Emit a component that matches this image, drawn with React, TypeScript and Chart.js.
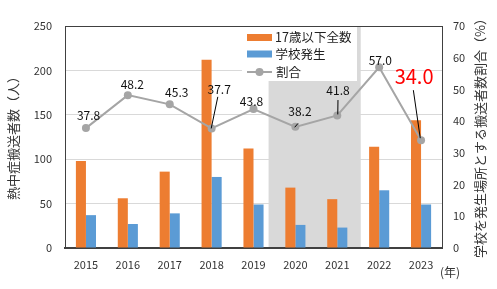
import { useEffect, useRef } from "react";
import { Chart, registerables } from "chart.js";

Chart.register(...registerables);

const years = ["2015", "2016", "2017", "2018", "2019", "2020", "2021", "2022", "2023"];
const totalUnder17 = [98, 56, 86, 212, 112, 68, 55, 114, 144];
const schoolCases = [37, 27, 39, 80, 49, 26, 23, 65, 49];
const schoolShare = [37.8, 48.2, 45.3, 37.7, 43.8, 38.2, 41.8, 57.0, 34.0];
const shareLabels = ["37.8", "48.2", "45.3", "37.7", "43.8", "38.2", "41.8", "57.0", "34.0"];
const seriesNames = ["17歳以下全数", "学校発生", "割合"];
const shadedYears = ["2020", "2021"];
const highlightedLabel = "34.0";
const leftTitle = "熱中症搬送者数（人）";
const rightTitle = "学校を発生場所とする搬送者数割合（%）";
const xUnit = "(年)";

const FONT = '"Noto Sans CJK JP", "Noto Sans", sans-serif';
const ORANGE = "#ED7D31";
const BLUE = "#5B9BD5";
const GRAY = "#A5A5A5";
const AXIS = "#404040";

// label offsets relative to each point: [dx, dy, leader?[sx, sy, ex, ey]]
const labelPlacement: Array<[number, number, number[] | null]> = [
  [2.6, -13, null],
  [4.5, -10.5, null],
  [7, -11.6, null],
  [7.6, -39, [-1.4, 7.4, -0.4, 0]],
  [-2, -7.5, null],
  [4.5, -15, [-1.9, 11.6, -0.7, 0.4]],
  [0.7, -24.7, [0, 9.3, 0.5, -1]],
  [1.2, -6.5, null],
  [-7, -64, [-0.7, 14, -0.8, -2]],
];

const decorPlugin = {
  id: "decor",
  beforeDatasetsDraw(chart: any) {
    const { ctx, chartArea } = chart;
    const xs = chart.scales.x;
    const cat = xs.width / years.length;
    const i0 = years.indexOf(shadedYears[0]);
    const i1 = years.indexOf(shadedYears[shadedYears.length - 1]);
    const left = xs.getPixelForValue(i0) - 0.64 * cat;
    const right = xs.getPixelForValue(i1) + 0.56 * cat;
    ctx.save();
    ctx.fillStyle = "#D9D9D9";
    ctx.fillRect(left, chartArea.top + 1, right - left, chartArea.bottom - chartArea.top - 2);
    ctx.restore();
  },
  afterDraw(chart: any) {
    const { ctx, chartArea } = chart;
    ctx.save();
    // top border
    ctx.strokeStyle = AXIS;
    ctx.lineWidth = 1;
    ctx.beginPath();
    ctx.moveTo(chartArea.left, chartArea.top + 0.5);
    ctx.lineTo(chartArea.right, chartArea.top + 0.5);
    ctx.stroke();

    // legend
    const lx = chartArea.left + 177;
    const ly = chartArea.top + 1;
    ctx.fillStyle = "#FFFFFF";
    ctx.fillRect(lx, ly, 115, 54);
    ctx.fillStyle = ORANGE;
    ctx.fillRect(lx + 5, ly + 7, 25, 7);
    ctx.fillStyle = BLUE;
    ctx.fillRect(lx + 5, ly + 23.5, 25, 7);
    ctx.strokeStyle = GRAY;
    ctx.lineWidth = 2;
    ctx.beginPath();
    ctx.moveTo(lx + 5, ly + 45);
    ctx.lineTo(lx + 30, ly + 45);
    ctx.stroke();
    ctx.fillStyle = GRAY;
    ctx.beginPath();
    ctx.arc(lx + 17.5, ly + 45, 4, 0, Math.PI * 2);
    ctx.fill();
    ctx.fillStyle = "#222";
    ctx.font = `12.5px ${FONT}`;
    ctx.textAlign = "left";
    ctx.textBaseline = "middle";
    ctx.fillText(seriesNames[0], lx + 33, ly + 10.5);
    ctx.fillText(seriesNames[1], lx + 33.5, ly + 27);
    ctx.fillText(seriesNames[2], lx + 34, ly + 45);

    // data labels
    const meta = chart.getDatasetMeta(0);
    meta.data.forEach((pt: any, i: number) => {
      const [dx, dy, leader] = labelPlacement[i];
      const tx = pt.x + dx;
      const ty = pt.y + dy;
      const hl = shareLabels[i] === highlightedLabel;
      ctx.font = hl ? `20px ${FONT}` : `12px ${FONT}`;
      ctx.fillStyle = hl ? "#FF0000" : "#111";
      ctx.textAlign = "center";
      ctx.textBaseline = "middle";
      ctx.fillText(shareLabels[i], tx, ty);
      if (leader) {
        ctx.strokeStyle = "#000";
        ctx.lineWidth = 1;
        ctx.beginPath();
        ctx.moveTo(tx + leader[0], ty + leader[1]);
        ctx.lineTo(pt.x + leader[2], pt.y + leader[3]);
        ctx.stroke();
      }
    });

    // axis titles
    ctx.fillStyle = "#333";
    ctx.font = `13px ${FONT}`;
    ctx.textAlign = "center";
    ctx.textBaseline = "middle";
    const midY = (chartArea.top + chartArea.bottom) / 2;
    ctx.save();
    ctx.translate(13, midY - 2);
    ctx.rotate(-Math.PI / 2);
    ctx.fillText(leftTitle, 0, 0);
    ctx.restore();
    ctx.save();
    ctx.translate(480, midY - 2);
    ctx.rotate(-Math.PI / 2);
    ctx.fillText(rightTitle, 0, 0);
    ctx.restore();
    ctx.font = `12px ${FONT}`;
    ctx.fillText(xUnit, chartArea.right + 8, chartArea.bottom + 24);
    ctx.restore();
  },
};

export default function App() {
  const ref = useRef<HTMLCanvasElement | null>(null);
  useEffect(() => {
    if (!ref.current) return;
    const tickFont = { family: FONT, size: 11 };
    const chart = new Chart(ref.current, {
      type: "bar",
      data: {
        labels: years,
        datasets: [
          {
            type: "line",
            label: seriesNames[2],
            data: schoolShare,
            yAxisID: "y1",
            borderColor: GRAY,
            backgroundColor: GRAY,
            borderWidth: 2,
            pointRadius: 4,
            pointBackgroundColor: GRAY,
            pointBorderWidth: 0,
            order: 0,
          } as any,
          {
            label: seriesNames[0],
            data: totalUnder17,
            backgroundColor: ORANGE,
            yAxisID: "y",
            barPercentage: 1,
            categoryPercentage: 0.48,
            order: 1,
          },
          {
            label: seriesNames[1],
            data: schoolCases,
            backgroundColor: BLUE,
            yAxisID: "y",
            barPercentage: 1,
            categoryPercentage: 0.48,
            order: 1,
          },
        ],
      },
      options: {
        animation: false,
        responsive: false,
        devicePixelRatio: 1,
        layout: { padding: { top: 26, left: 0, right: 0, bottom: 0 } },
        plugins: { legend: { display: false }, tooltip: { enabled: false } },
        scales: {
          x: {
            grid: { display: false, drawTicks: false },
            border: { display: true, color: AXIS, width: 2 },
            ticks: { font: tickFont, color: "#333", padding: 10, maxRotation: 0 },
            afterFit: (s: any) => {
              s.height = 41;
            },
          },
          y: {
            position: "left",
            min: 0,
            max: 250,
            ticks: { stepSize: 50, font: tickFont, color: "#333", padding: 13 },
            grid: { color: "#D9D9D9", drawTicks: false },
            border: { display: true, color: AXIS, width: 1 },
            afterFit: (s: any) => {
              s.width = 65;
            },
          },
          y1: {
            position: "right",
            min: 0,
            max: 70,
            ticks: { stepSize: 10, font: tickFont, color: "#333", padding: 11 },
            grid: { display: false, drawTicks: false },
            border: { display: true, color: AXIS, width: 1 },
            afterFit: (s: any) => {
              s.width = 55;
            },
          },
        },
      },
      plugins: [decorPlugin],
    });
    return () => chart.destroy();
  }, []);
  return (
    <div style={{ position: "absolute", left: 0, top: 0, width: 497, height: 289 }}>
      <canvas ref={ref} width={497} height={289} style={{ width: 497, height: 289 }} />
    </div>
  );
}
